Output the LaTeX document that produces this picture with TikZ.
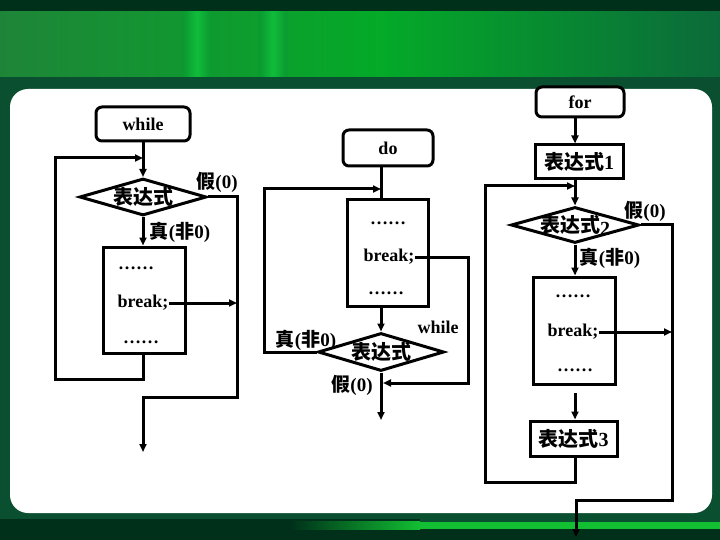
\documentclass[tikz,border=0pt]{standalone}
\usepackage{fontspec}
\setmainfont{Liberation Serif}
\newfontfamily\cjk{Noto Sans CJK SC}
\usetikzlibrary{shapes.geometric,arrows.meta}
\definecolor{topdark}{HTML}{00301A}
\definecolor{framegreen}{HTML}{0A5030}
\definecolor{gA}{HTML}{1E8538}
\definecolor{gB}{HTML}{04AA28}
\definecolor{gC}{HTML}{0B6A3A}
\definecolor{gMid}{HTML}{0A9830}
\definecolor{gBright}{HTML}{10BC3A}
\definecolor{stripe}{HTML}{12BE32}
\newcommand\zh[1]{{\cjk\bfseries #1}}
\begin{document}
\begin{tikzpicture}[x=1pt,y=-1pt,
  ln/.style={line width=3pt},
  arr/.style={ln,-{Triangle[length=8pt,width=7pt]}},
  rbox/.style={draw,line width=3pt,rounded corners=6pt,fill=white,inner sep=0pt},
  box/.style={draw,line width=3pt,fill=white,inner sep=0pt},
  dia/.style={draw,diamond,line width=3pt,fill=white,inner sep=0pt,font=\fontsize{20}{22}\selectfont\bfseries},
  txt/.style={inner sep=0pt,font=\fontsize{18}{20}\selectfont\bfseries},
  lbl/.style={inner sep=0pt,font=\fontsize{19}{21}\selectfont\bfseries},
  dtxt/.style={font=\fontsize{20}{22}\selectfont\bfseries},
]
\useasboundingbox (0,0) rectangle (720,540);
% ---------- background ----------
\fill[topdark] (0,0) rectangle (720,540);
\shade[left color=gA,right color=gB] (0,12) rectangle (380,77);
\shade[left color=gB,right color=gC] (380,12) rectangle (720,77);
\shade[left color=gMid,right color=gMid,middle color=gBright] (183,12) rectangle (211,77);
\shade[left color=gMid,right color=gMid,middle color=gBright] (259,12) rectangle (287,77);
\fill[framegreen] (0,77) rectangle (720,519);
\fill[framegreen] (420,519) rectangle (720,522);
\shade[left color=topdark,right color=stripe] (290,521) rectangle (420,529);
\fill[stripe] (420,522) rectangle (720,529);
\fill[white,rounded corners=18pt] (10,89) rectangle (712,513);

% ---------- while ----------
\node[rbox,minimum width=94pt,minimum height=34pt,txt] (wbox) at (143,124) {while};
\node[dia,minimum width=127pt,minimum height=37pt] (wdia) at (143,197) {\makebox[0pt]{\raisebox{-1pt}{\zh{表达式}}}};
\node[box,minimum width=82pt,minimum height=106pt] (wbody) at (144,300) {};
\node[txt] (wb1) at (136,268) {……};
\node[txt] (wb2) at (143,303) {break;};
\node[txt] (wb3) at (141,342) {……};
\node[lbl] (wf) at (217,182) {\zh{假}(0)};
\node[lbl] (wt) at (180,232) {\zh{真}(\zh{非}0)};
\coordinate (wL1) at (55,379);
\coordinate (wL2) at (55,158);
\coordinate (wJ) at (143,158);
\coordinate (wR1) at (237,197);
\coordinate (wR2) at (237,397);
\coordinate (wR3) at (143,397);
\coordinate (wEnd) at (143,452);
\coordinate (wR4) at (237,303);
\draw[arr] (wbox) -- (wdia.north);
\draw[arr] (wdia.south) -- (wbody.north -| wdia.south);
\draw[arr] (wbody.south -| wJ) |- (wL1) -- (wL2) -- (wJ);
\draw[arr] (wdia.east) -- (wR1) -- (wR2) -- (wR3) -- (wEnd);
\draw[arr] (wb2.east) -- (wR4);

% ---------- do-while ----------
\node[rbox,minimum width=90pt,minimum height=36pt,txt] (dobox) at (388,148) {do};
\node[box,minimum width=81pt,minimum height=106pt] (dbody) at (387.5,253) {};
\node[txt] (db1) at (388,223) {……};
\node[txt] (db2) at (389,257) {break;};
\node[txt] (db3) at (386,293) {……};
\node[dia,minimum width=126pt,minimum height=38pt] (ddia) at (381,352) {\makebox[0pt]{\raisebox{-2pt}{\zh{表达式}}}};
\node[txt] (dwh) at (438,327) {while};
\node[lbl] (dt) at (306,340) {\zh{真}(\zh{非}0)};
\node[lbl] (dfl) at (352,385) {\zh{假}(0)};
\coordinate (dX) at (381,189);
\coordinate (dL1) at (264,352);
\coordinate (dL2) at (264,189);
\coordinate (dR1) at (468,257);
\coordinate (dR2) at (468,383);
\coordinate (dR3) at (383,383);
\coordinate (dEnd) at (381,420);
\draw[ln] (dobox.south -| dX) -- (dbody.north -| dX);
\draw[arr] (ddia.west) -- (dL1) -- (dL2) -- (dX);
\draw[arr] (dbody.south -| dX) -- (ddia.north);
\draw[arr] (db2.east) -- (dR1) -- (dR2) -- (dR3);
\draw[arr] (ddia.south) -- (dEnd);

% ---------- for ----------
\node[rbox,minimum width=88pt,minimum height=30pt,txt] (forbox) at (580,102) {for};
\node[box,minimum width=88pt,minimum height=34pt,dtxt] (e1) at (579,162) {\zh{表达式}1};
\node[dia,minimum width=128pt,minimum height=36pt] (fdia) at (575,225) {\makebox[0pt]{\zh{表达式}\raisebox{-3pt}{2}}};
\node[box,minimum width=82pt,minimum height=107pt] (fbody) at (574,330.5) {};
\node[txt] (fb1) at (573,296) {……};
\node[txt] (fb2) at (573,332) {break;};
\node[txt] (fb3) at (575,370) {……};
\node[box,minimum width=87pt,minimum height=35pt,dtxt] (e3) at (573.5,438.5) {\zh{表达式}3};
\node[lbl] (ffl) at (645,211) {\zh{假}(0)};
\node[lbl] (ftr) at (610,258) {\zh{真}(\zh{非}0)};
\coordinate (fX) at (575,186);
\coordinate (fL1) at (575,482);
\coordinate (fL2) at (485,482);
\coordinate (fL3) at (485,186);
\coordinate (fR1) at (672,225);
\coordinate (fR2) at (672,500);
\coordinate (fR3) at (576,500);
\coordinate (fEnd) at (576,537);
\coordinate (fR4) at (672,332);
\coordinate (fGap) at (575,393);
\draw[arr] (forbox.south -| fX) -- (e1.north -| fX);
\draw[arr] (e1.south -| fX) -- (fdia.north);
\draw[arr] (e3.south -| fX) -- (fL1) -- (fL2) -- (fL3) -- (fX);
\draw[arr] (fdia.south) -- (fbody.north -| fX);
\draw[arr] (fdia.east) -- (fR1) -- (fR2) -- (fR3) -- (fEnd);
\draw[arr] (fb2.east) -- (fR4);
\draw[arr] (fGap) -- (e3.north -| fX);
\end{tikzpicture}
\end{document}
